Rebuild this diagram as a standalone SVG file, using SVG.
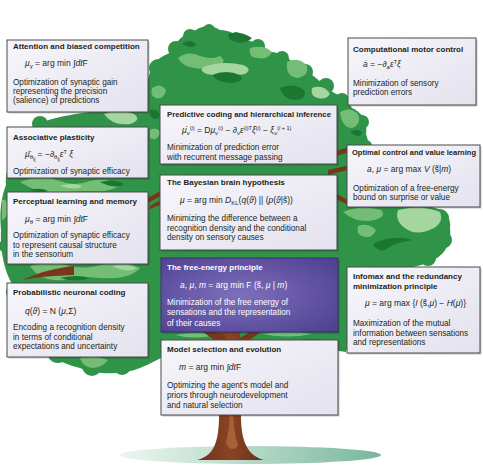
<svg xmlns="http://www.w3.org/2000/svg" width="483" height="465" viewBox="0 0 483 465">
  <defs>
    <linearGradient id="boxFill" x1="0" y1="0" x2="1" y2="1">
      <stop offset="0" stop-color="#f7f6fb"/>
      <stop offset="1" stop-color="#e3e2ee"/>
    </linearGradient>
    <radialGradient id="purpleFill" cx="0.45" cy="0.5" r="0.75">
      <stop offset="0" stop-color="#7d70bb"/>
      <stop offset="1" stop-color="#4c3d8f"/>
    </radialGradient>
    <linearGradient id="groundFill" x1="0" y1="0" x2="1" y2="0">
      <stop offset="0" stop-color="#eef6f1"/>
      <stop offset="0.6" stop-color="#a9d2bf"/>
      <stop offset="1" stop-color="#78b69c"/>
    </linearGradient>
    <linearGradient id="trunkFill" x1="0" y1="0" x2="1" y2="0">
      <stop offset="0" stop-color="#6e3318"/>
      <stop offset="0.5" stop-color="#8a4424"/>
      <stop offset="1" stop-color="#6a3016"/>
    </linearGradient>
    <style>
      .box { fill: url(#boxFill); stroke: #4a4a4c; stroke-width: 1; }
      .shadow { fill: #000; opacity: 0.22; }
      .purple { fill: url(#purpleFill); stroke: #3c2f78; stroke-width: 1; }
      text { font-family: "Liberation Sans", Arial, sans-serif; fill: #231f20; }
      .t { font-size: 8px; font-weight: bold; }
      .b { font-size: 8.2px; }
      .f { font-size: 8.5px; }
      .w { fill: #ffffff; }
      .i { font-style: italic; }
      .sub { font-size: 6px; }
      .ss { font-size: 5px; }
      .sup { font-size: 5.5px; }
      .leaf { fill: #2f9448; }
      .lt { fill: #74bd75; }
      .vlt { fill: #a6d6a0; }
      .dk { fill: #1b7632; }
      .bark { fill: #773819; }
    </style>
  </defs>

  <!-- ground -->
  <ellipse cx="250" cy="455" rx="131" ry="9" fill="url(#groundFill)"/>

  <!-- canopy -->
  <g id="canopy">
    <path class="leaf" d="M150,72 C152,60 165,55 172,52 C176,40 186,32 196,30 C204,24 214,26 220,30 C230,30 238,36 246,40 C256,42 264,46 270,52 C282,52 292,60 298,68 C310,72 320,80 328,90 C338,94 348,100 352,108 C362,112 368,122 366,134 C372,150 372,180 360,200 C380,202 400,205 420,206 C440,206 452,214 450,228 C452,244 444,256 430,262 C410,270 380,272 360,280 C352,300 350,330 346,352 C330,350 300,342 280,340 C250,344 220,344 200,340 C180,346 160,360 140,368 C120,376 95,374 80,368 C60,364 40,350 22,336 C10,320 6,300 12,284 C4,270 0,250 1,230 C-1,210 2,195 6,185 C4,170 14,150 26,132 C40,120 60,116 90,112 C115,110 132,104 142,96 C146,88 148,80 150,72 Z"/>
    <!-- lumpy rim -->
    <g class="leaf">
      <circle cx="158" cy="68" r="9"/>
      <circle cx="176" cy="49" r="8"/>
      <circle cx="190" cy="36" r="7"/>
      <circle cx="209" cy="30" r="6"/>
      <circle cx="236" cy="38" r="6"/>
      <circle cx="258" cy="46" r="7"/>
      <circle cx="282" cy="58" r="7"/>
      <circle cx="305" cy="72" r="8"/>
      <circle cx="326" cy="86" r="8"/>
      <circle cx="342" cy="100" r="7"/>
      <circle cx="362" cy="122" r="7"/>
      <circle cx="366" cy="146" r="6"/>
      <circle cx="414" cy="209" r="7"/>
      <circle cx="440" cy="218" r="9"/>
      <circle cx="444" cy="240" r="8"/>
      <circle cx="428" cy="258" r="8"/>
      <circle cx="10" cy="196" r="7"/>
      <circle cx="6" cy="246" r="7"/>
      <circle cx="14" cy="292" r="8"/>
      <circle cx="30" cy="330" r="10"/>
      <circle cx="58" cy="352" r="11"/>
      <circle cx="92" cy="366" r="10"/>
      <circle cx="122" cy="366" r="9"/>
      <circle cx="345" cy="344" r="6"/>
      <circle cx="40" cy="124" r="8"/>
      <circle cx="118" cy="108" r="7"/>
    </g>
    <!-- light patches -->
    <path class="lt" d="M178,58 q10,-8 22,-2 q12,4 20,0 q8,6 -2,10 q-14,4 -24,2 q-12,-2 -16,-10z"/>
    <path class="vlt" d="M203,67 q20,-7 40,-2 q10,4 2,9 q-20,4 -38,0 q-8,-3 -4,-7z"/>
    <path class="lt" d="M287,62 q12,-6 20,4 q2,10 -10,12 q-12,-2 -10,-16z"/>
    <path class="lt" d="M250,48 q14,-4 22,4 q-4,8 -14,6 q-10,0 -8,-10z"/>
    <path class="vlt" d="M312,88 q12,-4 18,6 q-4,6 -12,4 q-8,-2 -6,-10z"/>
    <path class="lt" d="M152,88 q8,-6 14,2 q-2,10 -10,8 q-6,-2 -4,-10z"/>
    <path class="vlt" d="M104,114 q16,-6 30,0 q8,6 -4,10 q-18,2 -26,-10z"/>
    <path class="lt" d="M20,182 q20,-8 40,-1 q14,6 30,0 q16,-4 30,4 q-10,8 -30,6 q-20,0 -30,2 q-20,2 -40,-11z"/>
    <path class="vlt" d="M60,186 q12,-4 22,0 q-4,5 -22,0z"/>
    <path class="lt" d="M2,200 q6,-2 6,8 q0,10 -6,12z"/>
    <path class="lt" d="M30,266 q20,-6 40,0 q16,4 34,-2 q20,-4 36,4 q-10,12 -40,10 q-20,-2 -36,2 q-24,2 -34,-14z"/>
    <path class="vlt" d="M112,266 q14,-4 24,2 q-6,6 -24,-2z"/>
    <path class="lt" d="M80,358 q14,-4 28,2 q-6,8 -16,8 q-10,-2 -12,-10z"/>
    <path class="lt" d="M150,130 q6,-4 10,2 q-2,10 -10,6z"/>
    <path class="lt" d="M340,112 q10,-6 18,2 q4,10 -6,14 q-10,0 -12,-16z"/>
    <path class="lt" d="M343,212 q18,-8 38,-2 q6,6 -6,10 q-18,4 -32,-8z"/>
    <path class="vlt" d="M398,210 q22,-6 42,2 q4,10 -6,16 q-16,8 -26,2 q-14,-8 -10,-20z"/>
    <path class="lt" d="M358,226 q10,-4 18,4 q-4,10 -14,6 q-6,-2 -4,-10z"/>
    <path class="lt" d="M175,335 q20,-4 40,0 q-20,5 -40,0z"/>
    <path class="lt" d="M262,334 q26,-4 50,0 q-24,5 -50,0z"/>
    <!-- dark patches -->
    <path class="dk" d="M212,75 q14,-6 28,0 q6,6 -8,8 q-14,0 -20,-8z"/>
    <path class="dk" d="M280,88 q12,-6 24,2 q4,8 -8,10 q-12,0 -16,-12z"/>
    <path class="dk" d="M228,34 q12,-4 24,4 q-6,6 -16,4 q-8,-2 -8,-8z"/>
    <path class="dk" d="M182,44 q8,-6 14,0 q-2,6 -14,0z"/>
    <path class="dk" d="M150,110 q8,-2 10,6 q-4,6 -10,0z"/>
    <path class="dk" d="M100,182 q14,-4 24,2 q-8,6 -24,-2z"/>
    <path class="dk" d="M30,190 q10,-3 18,1 q-8,4 -18,-1z"/>
    <path class="dk" d="M60,278 q16,-4 30,0 q-14,5 -30,0z"/>
    <path class="dk" d="M373,244 q20,-10 40,-4 q-18,2 -28,10 q-8,2 -12,-6z"/>
    <path class="dk" d="M350,132 q6,-4 12,0 q-2,8 -12,0z"/>
    <path class="dk" d="M300,340 q14,-3 26,1 q-14,3 -26,-1z"/>
  </g>

  <!-- trunk and branches -->
  <g id="tree-trunk">
    <path fill="url(#trunkFill)" d="M197,460 C212,456 218,446 219,420 L220,330 L240,330 L241,420 C242,446 250,456 264,460 Z"/>
    <path fill="#a8603a" d="M226,442 C229,432 230,420 230,402 L233,402 C233,420 234,432 238,446 C234,451 228,450 226,442 Z"/>
    <path class="bark" d="M222,346 C212,338 200,330 186,320 L190,315 C204,324 214,332 226,336 Z"/>
    <path class="bark" d="M236,340 C248,334 258,326 270,316 L274,321 C262,332 250,340 238,347 Z"/>
    <path class="bark" d="M176,182 C164,188 156,194 146,199 L148,203 C158,198 166,192 178,186 Z"/>
    <path class="bark" d="M74,266 C56,268 40,272 22,280 C40,276 56,276 74,275 Z"/>
    <path class="bark" d="M328,170 C340,167 350,165 360,164 L360,168 C350,169 340,172 328,175 Z"/>
    <path class="bark" d="M330,190 C338,194 346,199 354,204 L351,207 C343,202 336,199 330,196 Z"/>
    <path class="bark" d="M336,151 L352,146 L352,151 L336,156 Z"/>
    <path class="bark" d="M150,206 C155,203 160,200 166,198 L166,202 C160,205 155,207 150,209 Z"/>
  </g>

  <!-- Attention and biased competition -->
  <g id="attention">
    <rect class="shadow" x="8.5" y="41.5" width="141" height="72"/>
    <rect class="box" x="7" y="40" width="141" height="72"/>
    <text class="t" x="13" y="49">Attention and biased competition</text>
    <text class="f" x="25" y="66"><tspan class="i">μ</tspan><tspan class="sub" dy="2">γ</tspan><tspan dy="-2"> = arg min ∫</tspan><tspan class="i">dt</tspan>F</text>
    <text class="b" x="13" y="84.5">Optimization of synaptic gain</text>
    <text class="b" x="13" y="93.5">representing the precision</text>
    <text class="b" x="13" y="102.5">(salience) of predictions</text>
  </g>

  <!-- Associative plasticity -->
  <g id="associative">
    <rect class="shadow" x="8.5" y="128.5" width="141" height="51"/>
    <rect class="box" x="7" y="127" width="141" height="51"/>
    <text class="t" x="13" y="140">Associative plasticity</text>
    <text class="f" x="25" y="157"><tspan class="i">μ̈</tspan><tspan class="sub" dy="2">θ</tspan><tspan class="ss" dy="1.5">ij</tspan><tspan dy="-3.5"> = −∂</tspan><tspan class="sub" dy="2">θ</tspan><tspan class="ss" dy="1.5">ij</tspan><tspan class="i" dy="-3.5">ε</tspan><tspan class="sup" dy="-3">T</tspan><tspan class="i" dy="3"> ξ</tspan></text>
    <text class="b" x="13" y="174">Optimization of synaptic efficacy</text>
  </g>

  <!-- Perceptual learning and memory -->
  <g id="perceptual">
    <rect class="shadow" x="8.5" y="193.5" width="141" height="72"/>
    <rect class="box" x="7" y="192" width="141" height="72"/>
    <text class="t" x="13" y="204">Perceptual learning and memory</text>
    <text class="f" x="25" y="222"><tspan class="i">μ</tspan><tspan class="sub" dy="2">θ</tspan><tspan dy="-2"> = arg min ∫</tspan><tspan class="i">dt</tspan>F</text>
    <text class="b" x="13" y="238">Optimization of synaptic efficacy</text>
    <text class="b" x="13" y="247.5">to represent causal structure</text>
    <text class="b" x="13" y="257">in the sensorium</text>
  </g>

  <!-- Probabilistic neuronal coding -->
  <g id="probabilistic">
    <rect class="shadow" x="8.5" y="284.5" width="141" height="74"/>
    <rect class="box" x="7" y="283" width="141" height="74"/>
    <text class="t" x="13" y="295">Probabilistic neuronal coding</text>
    <text class="f" x="25" y="314"><tspan class="i">q</tspan>(<tspan class="i">ϑ</tspan>) = N (<tspan class="i">μ</tspan>,Σ)</text>
    <text class="b" x="13" y="330">Encoding a recognition density</text>
    <text class="b" x="13" y="339.5">in terms of conditional</text>
    <text class="b" x="13" y="349">expectations and uncertainty</text>
  </g>

  <!-- Predictive coding and hierarchical inference -->
  <g id="predictive">
    <rect class="shadow" x="161.5" y="106.5" width="177" height="59"/>
    <rect class="box" x="160" y="105" width="177" height="59"/>
    <text class="t" x="167" y="117" textLength="164" lengthAdjust="spacingAndGlyphs">Predictive coding and hierarchical inference</text>
    <text class="f" x="182" y="133"><tspan class="i">μ̇</tspan><tspan class="sub i" dy="2">ν</tspan><tspan class="sup" dy="-5">(<tspan class="i">i</tspan>)</tspan><tspan dy="3"> = D</tspan><tspan class="i">μ</tspan><tspan class="sub i" dy="2">ν</tspan><tspan class="sup" dy="-5">(<tspan class="i">i</tspan>)</tspan><tspan dy="3"> − ∂</tspan><tspan class="sub i" dy="2">ν</tspan><tspan class="i" dy="-2">ε</tspan><tspan class="sup" dy="-3">(<tspan class="i">i</tspan>)T</tspan><tspan class="i" dy="3">ξ</tspan><tspan class="sup" dy="-3">(<tspan class="i">i</tspan>)</tspan><tspan dy="3"> − </tspan><tspan class="i">ξ</tspan><tspan class="sub i" dy="2">ν</tspan><tspan class="sup" dy="-5">(<tspan class="i">i</tspan> + 1)</tspan></text>
    <text class="b" x="167" y="150">Minimization of prediction error</text>
    <text class="b" x="167" y="160">with recurrent message passing</text>
  </g>

  <!-- The Bayesian brain hypothesis -->
  <g id="bayesian">
    <rect class="shadow" x="161.5" y="176.5" width="177" height="75"/>
    <rect class="box" x="160" y="175" width="177" height="75"/>
    <text class="t" x="167" y="185">The Bayesian brain hypothesis</text>
    <text class="f" x="180" y="203"><tspan class="i">μ</tspan> = arg min <tspan class="i">D</tspan><tspan class="sub" dy="2">KL</tspan><tspan dy="-2">(</tspan><tspan class="i">q</tspan>(<tspan class="i">ϑ</tspan>) || (<tspan class="i">p</tspan>(<tspan class="i">ϑ</tspan>|s̃))</text>
    <text class="b" x="167" y="221">Minimizing the difference between a</text>
    <text class="b" x="167" y="230.5">recognition density and the conditional</text>
    <text class="b" x="167" y="240">density on sensory causes</text>
  </g>

  <!-- The free-energy principle -->
  <g id="free-energy">
    <rect class="shadow" x="162.5" y="259.5" width="177" height="74"/>
    <rect class="purple" x="161" y="258" width="177" height="74"/>
    <text class="t w" x="167" y="270">The free-energy principle</text>
    <text class="f w" x="180" y="288"><tspan class="i">a</tspan>, <tspan class="i">μ</tspan>, <tspan class="i">m</tspan> = arg min F (s̃, <tspan class="i">μ</tspan> | <tspan class="i">m</tspan>)</text>
    <text class="b w" x="167" y="305">Minimization of the free energy of</text>
    <text class="b w" x="167" y="315">sensations and the representation</text>
    <text class="b w" x="167" y="325.5">of their causes</text>
  </g>

  <!-- Model selection and evolution -->
  <g id="model-selection">
    <rect class="shadow" x="162.5" y="341.5" width="177" height="75"/>
    <rect class="box" x="161" y="340" width="177" height="75"/>
    <text class="t" x="167" y="352">Model selection and evolution</text>
    <text class="f" x="179" y="370"><tspan class="i">m</tspan> = arg min ∫<tspan class="i">dt</tspan>F</text>
    <text class="b" x="167" y="388">Optimizing the agent’s model and</text>
    <text class="b" x="167" y="398">priors through neurodevelopment</text>
    <text class="b" x="167" y="408">and natural selection</text>
  </g>

  <!-- Computational motor control -->
  <g id="motor-control">
    <rect class="shadow" x="349.5" y="39.5" width="128" height="67"/>
    <rect class="box" x="348" y="38" width="128" height="67"/>
    <text class="t" x="353" y="52">Computational motor control</text>
    <text class="f" x="363" y="67"><tspan class="i">ȧ</tspan> = −∂<tspan class="sub i" dy="2">a</tspan><tspan class="i" dy="-2">ε</tspan><tspan class="sup" dy="-3">T</tspan><tspan class="i" dy="3">ξ</tspan></text>
    <text class="b" x="353" y="86">Minimization of sensory</text>
    <text class="b" x="353" y="95">prediction errors</text>
  </g>

  <!-- Optimal control and value learning -->
  <g id="optimal-control">
    <rect class="shadow" x="348.5" y="146.5" width="133" height="62"/>
    <rect class="box" x="347" y="145" width="133" height="62"/>
    <text class="t" x="352" y="155" textLength="124" lengthAdjust="spacingAndGlyphs">Optimal control and value learning</text>
    <text class="f" x="367" y="172"><tspan class="i">a</tspan>, <tspan class="i">μ</tspan> = arg max <tspan class="i">V</tspan> (s̃|<tspan class="i">m</tspan>)</text>
    <text class="b" x="353" y="191">Optimization of a free-energy</text>
    <text class="b" x="353" y="200">bound on surprise or value</text>
  </g>

  <!-- Infomax and the redundancy minimization principle -->
  <g id="infomax">
    <rect class="shadow" x="348.5" y="268.5" width="133" height="86"/>
    <rect class="box" x="347" y="267" width="133" height="86"/>
    <text class="t" x="353" y="279">Infomax and the redundancy</text>
    <text class="t" x="353" y="288.5">minimization principle</text>
    <text class="f" x="365" y="306"><tspan class="i">μ</tspan> = arg max {<tspan class="i">I</tspan> (s̃,<tspan class="i">μ</tspan>) − <tspan class="i">H</tspan>(<tspan class="i">μ</tspan>)}</text>
    <text class="b" x="353" y="326">Maximization of the mutual</text>
    <text class="b" x="353" y="335.5">information between sensations</text>
    <text class="b" x="353" y="345">and representations</text>
  </g>
</svg>
